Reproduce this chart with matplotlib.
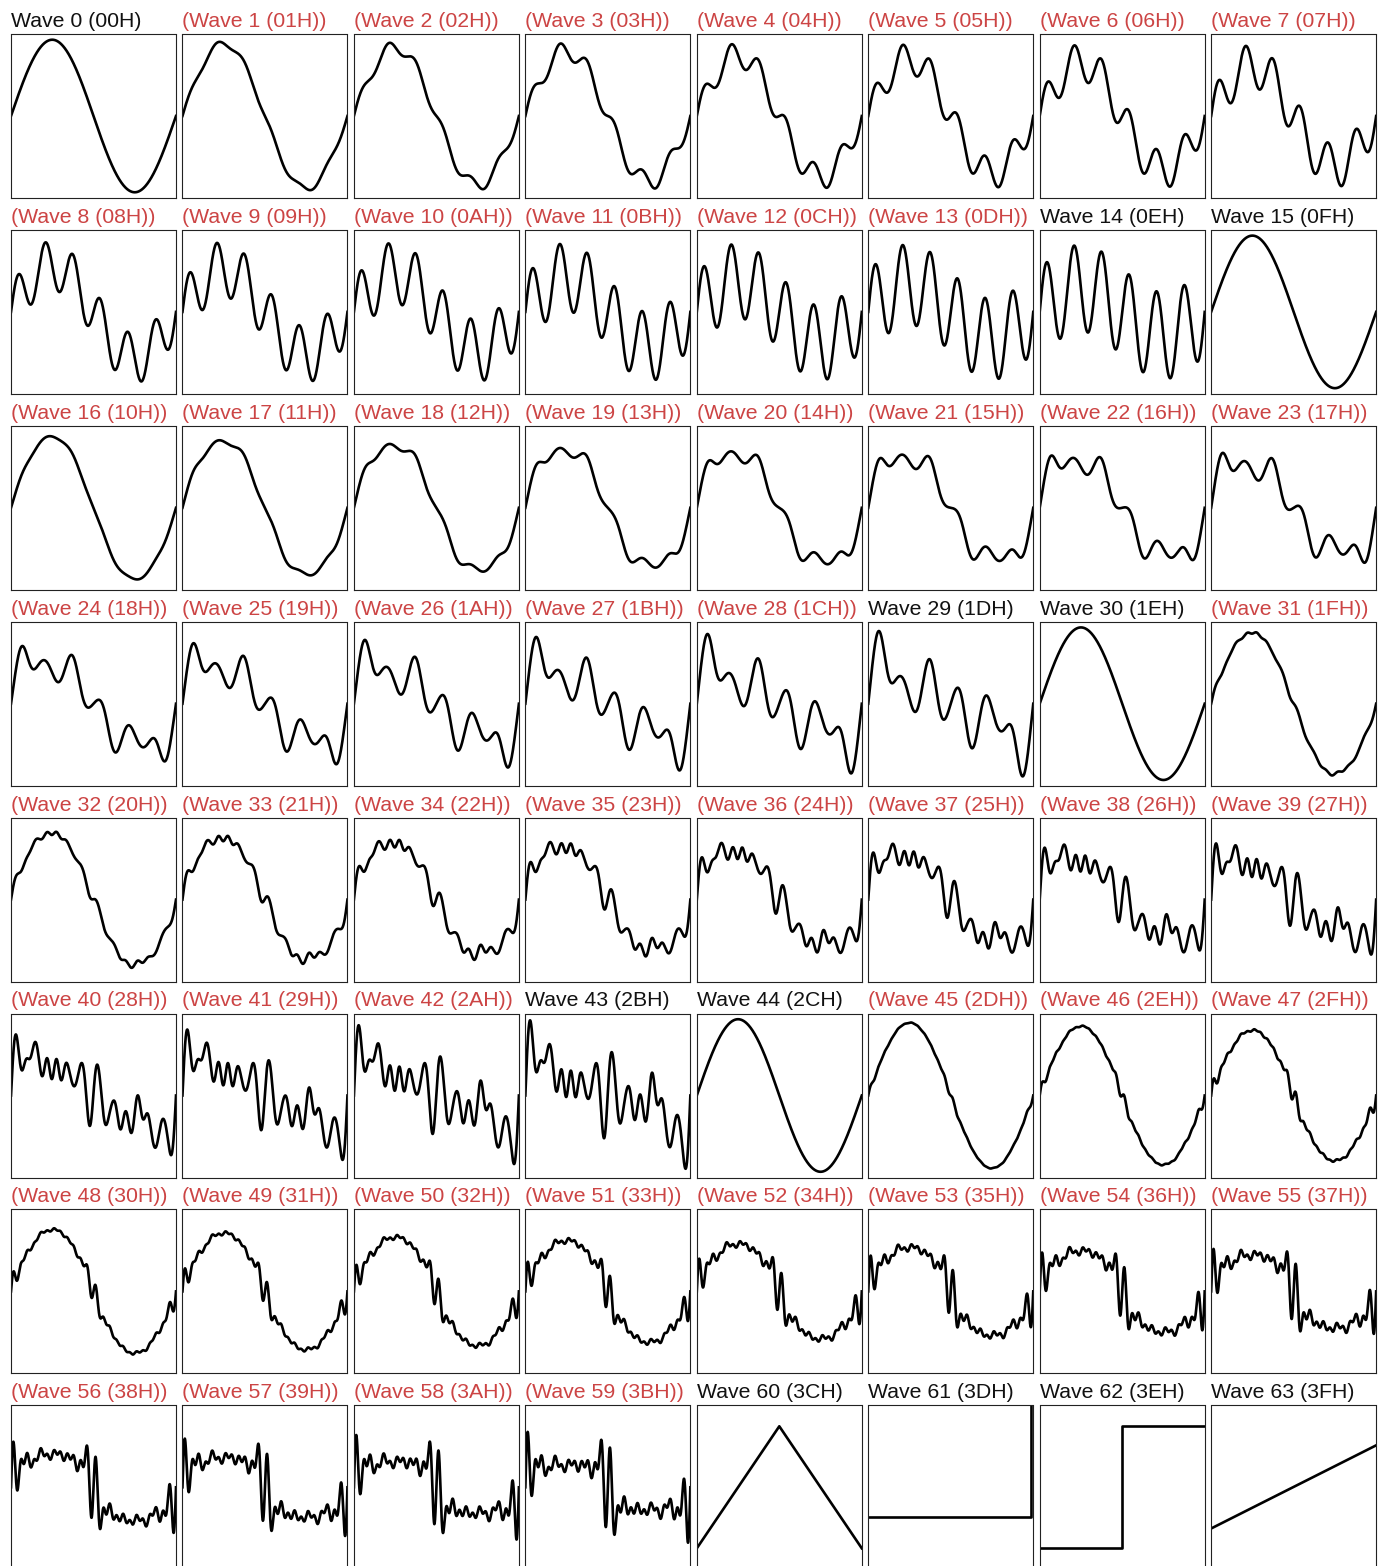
import numpy as np
import matplotlib.pyplot as plt

plt.rcParams['font.family'] = ['Liberation Sans', 'DejaVu Sans']

# sine amplitudes of the key spectra, harmonic 1 first
sine = [1.0]
target_a = [0.31, 0, 0, 0, 0, 0.57]
target_d = [0.32, 0, 0.107, 0, 0.064, 0, 0.046, 0, 0, 0, 0, 0.1,
            0, 0.1, 0, 0.1, 0, 0.1, 0, 0.1, 0, 0.1, 0, 0.1]

target_b_x = [0, 0.03, 0.065, 0.1, 0.15, 0.2, 0.24, 0.285, 0.33, 0.37, 0.41, 0.455, 0.5,
              0.545, 0.59, 0.63, 0.67, 0.715, 0.76, 0.8, 0.85, 0.9, 0.935, 0.97, 1.0]
target_b_y = [0, 0.6, 0.96, 0.62, 0.27, 0.36, 0.15, -0.11, 0.25, 0.59, 0.22, -0.21, 0,
              0.21, -0.22, -0.59, -0.25, 0.11, -0.15, -0.36, -0.27, -0.62, -0.96, -0.6, 0]

target_c_x = [0, 0.011, 0.032, 0.05, 0.065, 0.092, 0.105, 0.14, 0.173, 0.19, 0.222, 0.243,
              0.273, 0.303, 0.335, 0.37, 0.40, 0.443, 0.476, 0.519, 0.565, 0.627, 0.665,
              0.70, 0.727, 0.768, 0.80, 0.827, 0.868, 0.93, 0.97, 1.0]
target_c_y = [0, 0.57, 0.97, 0.57, 0.31, 0.46, 0.44, 0.65, 0.27, 0.05, 0.33, 0.0,
              0.32, -0.02, 0.30, 0.0, 0.09, 0.29, -0.56, 0.55, -0.30, 0.12, -0.32,
              0.0, -0.34, 0.30, -0.12, -0.04, -0.65, -0.30, -0.96, 0]

# blend from sine to target for each wave of a group
mix_a = [0, 0.07, 0.14, 0.21, 0.29, 0.36, 0.43, 0.5, 0.57, 0.64, 0.71, 0.79, 0.86, 0.93, 1.0]
mix_b = [0, 0.07, 0.14, 0.21, 0.29, 0.36, 0.43, 0.5, 0.57, 0.64, 0.71, 0.79, 0.86, 0.93, 1.0]
mix_c = [0, 0.08, 0.15, 0.23, 0.31, 0.38, 0.46, 0.54, 0.62, 0.69, 0.77, 0.85, 0.92, 1.0]
mix_d = [0, 0.06, 0.12, 0.19, 0.25, 0.31, 0.38, 0.44, 0.5, 0.56, 0.62, 0.69, 0.75, 0.81, 0.88, 0.94]

# basic shapes, waves 60..63
basic_x = [[0, 0.5, 1], [0, 0.985, 0.985, 1], [0, 0.5, 0.5, 1], [0, 1]]
basic_y = [[-0.8, 0.8, -0.8], [-0.39, -0.39, 1.3, 1.3], [-0.8, -0.8, 0.8, 0.8], [-0.54, 0.55]]

# waves shown without brackets (the others are in-between steps)
plain_waves = [0, 14, 15, 29, 30, 43, 44, 60, 61, 62, 63]


def basis(x, n, with_cos):
    k = np.arange(1, n + 1)
    ph = 2 * np.pi * np.outer(x, k)
    if with_cos:
        return np.hstack([np.sin(ph), np.cos(ph) - 1]), np.concatenate([k, k])
    return np.sin(ph), k


def fit_series(px, py, n=12, lam=1e-4, with_cos=False):
    # smooth harmonic series through the read points
    A, k = basis(px, n, with_cos)
    c = np.linalg.solve(A.T @ A + lam * np.diag(k ** 4.0), A.T @ np.array(py))
    return lambda x: basis(x, n, with_cos)[0] @ c


def spectrum(amps):
    return lambda x: basis(x, len(amps), False)[0] @ np.array(amps)


groups = [
    (spectrum(target_a), mix_a),
    (fit_series(target_b_x, target_b_y), mix_b),
    (fit_series(target_c_x, target_c_y, n=22, lam=2e-6, with_cos=True), mix_c),
    (spectrum(target_d), mix_d),
]

x = np.linspace(0, 1, 1500)
base = spectrum(sine)(x)
waves = []
for target, mix in groups:
    ty = target(x)
    for m in mix:
        waves.append((x, (1 - m) * base + m * ty))
for bx, by in zip(basic_x, basic_y):
    waves.append((bx, by))

W, H = 1390, 1566
fig = plt.figure(figsize=(W / 100, H / 100), dpi=100)

for i, (wx, wy) in enumerate(waves):
    r, c = divmod(i, 8)
    left = 11 + c * 171.45
    top = 34 + r * 195.9
    ax = fig.add_axes([left / W, 1 - (top + 164) / H, 165 / W, 164 / H])
    ax.plot(wx, wy, color='black', lw=1.9, solid_joinstyle='round')
    ax.set_xlim(0, 1)
    ax.set_ylim(-1.075, 1.075)
    ax.set_xticks([])
    ax.set_yticks([])
    for s in ax.spines.values():
        s.set_linestyle((0, (1, 1)))
        s.set_linewidth(0.8)
        s.set_color('#222222')
    label = f'Wave {i} ({i:02X}H)'
    if i in plain_waves:
        color = '#111111'
    else:
        label = '(' + label + ')'
        color = '#cc4444'
    fig.text(left / W, 1 - (top - 7) / H, label, fontsize=15.3, color=color,
             ha='left', va='baseline')

fig.savefig('out.png', dpi=100)
